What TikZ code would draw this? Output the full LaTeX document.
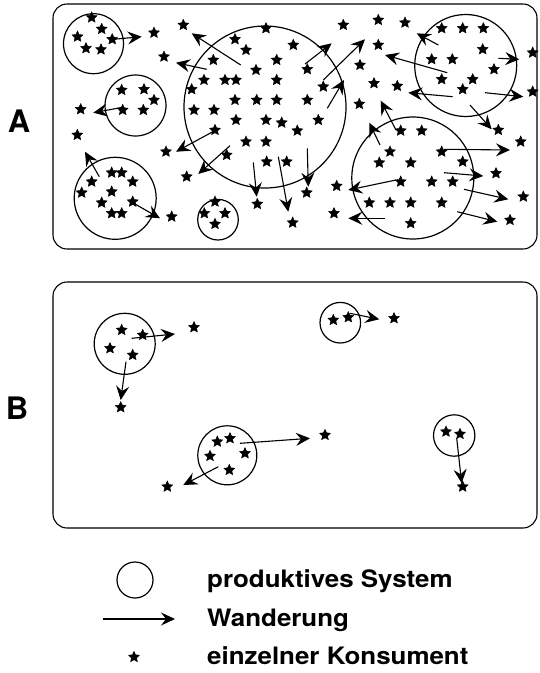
\documentclass[tikz,border=0pt]{standalone}
\usepackage{fontspec}
\setmainfont{TeX Gyre Heros}
\usetikzlibrary{shapes.geometric,arrows.meta}
\begin{document}
\begin{tikzpicture}[x=1pt,y=-1pt,
  st/.style={star,star points=5,star point ratio=2.1,fill=black,draw=black,line width=0.4pt,inner sep=0pt,minimum size=11.5pt},
  sys/.style={draw=black,line width=1.2pt},
  frm/.style={draw=black,line width=1.1pt,rounded corners=14pt},
  mig/.style={line width=1.1pt,-{Stealth[length=14pt,width=13pt,inset=5pt]}},
  lbl/.style={font=\fontsize{31}{31}\selectfont\bfseries},
  leg/.style={font=\fontsize{24}{24}\selectfont\bfseries,anchor=base west,inner sep=0pt}]
\useasboundingbox (0,0) rectangle (539,673);
% frames
\draw[frm] (53,4) rectangle (537,249);
\draw[frm] (53,282) rectangle (537,528);
\node[lbl] (labA) at (19,121) {A};
\node[lbl] (labB) at (17,408) {B};
% ---------- A: systems
\foreach \x/\y/\r [count=\i] in {93.5/43.7/30, 265/107/81, 135.5/105.5/30.5, 115.2/198.3/41, 218/219.7/20.3, 465.7/65.5/51, 412.8/178/61}
  \draw[sys] (\x,\y) circle[radius=\r];
% ---------- A: consumers
\foreach \x/\y [count=\i] in {
 91.7/17.5, 101.7/29, 77.5/36.7, 112.2/39.3, 86/48.3, 101/49.5,
 154/32.8, 183.3/25, 164/56.7, 80.7/109.3, 77.3/135, 166/151.7, 186.7/176.7, 171.7/216.7, 257.3/204, 292.7/222.7, 306.7/192.7,
 343.3/25, 378.3/20, 405/22.7, 378.3/45, 360/65, 374/83.3, 397.3/86, 359.3/104,
 532.7/52.7, 532.7/91.7, 498.3/130, 520.7/141.7, 496/173.3, 523.3/196.7, 510/220, 336.7/186, 334/213.3,
 235/39.3, 246/50, 266/28.3, 293.3/45, 213.3/60, 256/70, 276.7/60, 191.7/89.3, 204/80, 225/80, 236/80, 276.7/80,
 235/100, 256.7/100, 276.7/100, 194/110, 214/110, 236/120, 266/120, 281.7/122.7, 297.3/130.7, 215/130, 246/141.7, 266/141.7,
 266.7/161.7, 286.7/161.7, 307.3/69.3, 323.3/86.7, 307.3/100, 318.3/120, 226.7/155,
 121.7/90, 144/89.3, 154/100, 122.7/110, 143.3/110,
 111.7/172.7, 121.7/172.7, 91.7/181.7, 132.7/181.7, 81.7/192.7, 111.7/191.7, 101.7/202.7, 132.7/201.7, 111.7/213.3, 121.7/213.3,
 215/201.7, 204.3/213.3, 225/213.3, 215/224,
 441.7/28.3, 462.7/28.3, 483.3/28.3, 482.7/49.3, 431.7/59.3, 452.3/59.3, 494/69.3, 441.7/79.3, 472.7/79.3, 462.7/89.3,
 400.7/130.7, 421.7/130.7, 390/151.7, 379.3/162.7, 410.7/162.7, 441.7/151.7, 462.7/161.7, 400.7/181.7, 431.7/181.7, 452.7/181.7,
 369.3/202.7, 390/202.7, 410.7/202.7, 441.7/202.7, 410.7/223.3}
  \node[st] (ka\i) at (\x,\y) {};
% ---------- A: migrations
\foreach \ax/\ay/\bx/\by [count=\i] in {
 113.3/39.3/141.7/36.7, 206.7/69.3/176/62.7, 240.7/65/191.7/33.3, 122.7/107.3/93.3/112.7,
 99.3/176.7/85/151.7, 132.7/202.7/160/218.3, 216/130/176/151.7, 230/145.7/198.3/174,
 253.3/162.3/256.7/196.7, 278.3/156.7/288.3/211.7, 305/64/331.7/43.3, 323.3/80/365/39.3,
 327.3/108.3/344/80, 307.3/148.3/308.3/186.7, 438.3/45/416.7/33.3, 447.3/72.7/385/55,
 452.7/96.7/408.3/92.7, 498.3/58.3/519.3/59.3, 485/92.7/523.3/96.7, 470/105/491.7/129.3,
 380/145/369.3/122.7, 396/130/380.7/100.7, 444/149.3/510/150, 444/172.7/483.3/176,
 464/189.3/508.3/199.3, 457.3/211.7/497.3/221.7, 396/180/348.3/190, 385/218.3/348.3/218.3}
  {\coordinate (fa\i) at (\ax,\ay); \coordinate (ta\i) at (\bx,\by); \draw[mig] (fa\i) -- (ta\i);}
% ---------- B: systems
\foreach \x/\y/\r [count=\i] in {124.7/343.8/30.5, 340.3/322.7/20.3, 227.3/455.3/29.5, 454.2/435.5/20.7}
  \draw[sys] (\x,\y) circle[radius=\r];
\foreach \x/\y [count=\i] in {121.7/330, 142.7/335, 110/348.3, 132.7/355, 194/327.3, 120.7/407.3,
 333.3/320, 348.3/317.3, 394/318.3, 217.3/441.7, 230/438.3, 210/456, 245/453.3, 229.3/470, 325/435, 167.3/486.7,
 446/431.7, 460/434, 462.7/486.7}
  \node[st] (kb\i) at (\x,\y) {};
\foreach \ax/\ay/\bx/\by [count=\i] in {131.7/338.3/175/334, 126/361.7/120.7/400, 350/313.3/379.3/319.3,
 240/443.3/310/438.3, 218.3/466.7/183.3/485, 456.7/438.3/461.7/483.3}
  {\coordinate (fb\i) at (\ax,\ay); \coordinate (tb\i) at (\bx,\by); \draw[mig] (fb\i) -- (tb\i);}
% ---------- legend
\draw[sys] (135,580) circle[radius=18];
\coordinate (l1) at (103,619); \coordinate (l2) at (175,619);
\draw[mig] (l1) -- (l2);
\node[st] (lst) at (134,657) {};
\node[leg] (t1) at (207,587) {\scalebox{1.08}[1]{produktives System}};
\node[leg] (t2) at (207,626) {\scalebox{1.08}[1]{Wanderung}};
\node[leg] (t3) at (207,664) {\scalebox{1.08}[1]{einzelner Konsument}};
\end{tikzpicture}
\end{document}
